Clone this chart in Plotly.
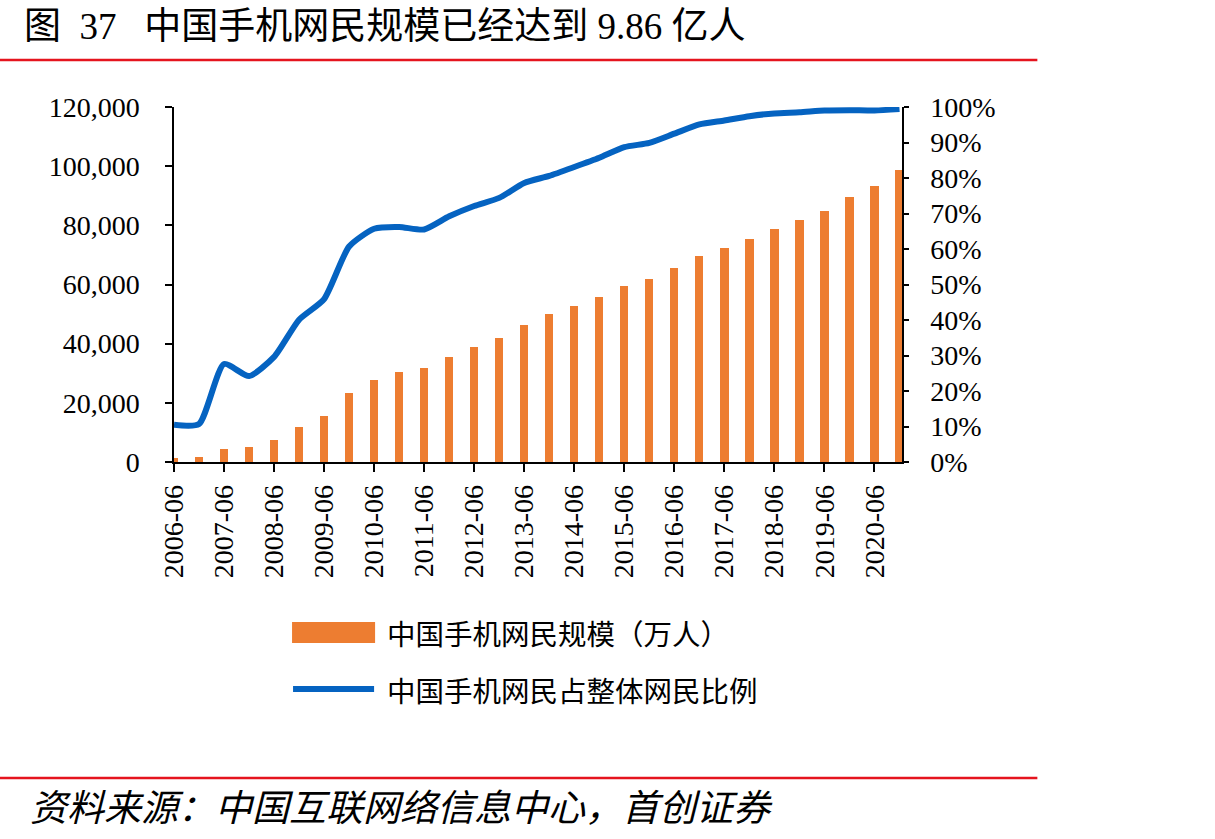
import plotly.graph_objects as go

# ---------------- data ----------------
periods = ["2006-06", "2006-12", "2007-06", "2007-12", "2008-06", "2008-12",
           "2009-06", "2009-12", "2010-06", "2010-12", "2011-06", "2011-12",
           "2012-06", "2012-12", "2013-06", "2013-12", "2014-06", "2014-12",
           "2015-06", "2015-12", "2016-06", "2016-12", "2017-06", "2017-12",
           "2018-06", "2018-12", "2019-06", "2020-03", "2020-06", "2020-12"]
mobile_users = [1300, 1700, 4430, 5040, 7305, 11760, 15530, 23344, 27678, 30274,
                31768, 35558, 38825, 41997, 46373, 50006, 52705, 55678, 59357, 61981,
                65637, 69531, 72361, 75265, 78774, 81698, 84681, 89690, 93238, 98576]
mobile_share = [0.105, 0.107, 0.276, 0.242, 0.296, 0.401, 0.459, 0.607, 0.657, 0.662,
                0.655, 0.692, 0.721, 0.744, 0.786, 0.806, 0.831, 0.857, 0.887, 0.899,
                0.925, 0.951, 0.962, 0.974, 0.982, 0.985, 0.990, 0.991, 0.990, 0.994]
tick_labels = [p for p in periods if p.endswith("-06")]

bar_name = "中国手机网民规模（万人）"
line_name = "中国手机网民占整体网民比例"
title_text = "图  37   中国手机网民规模已经达到 9.86 亿人"
source_text = "资料来源：中国互联网络信息中心，首创证券"

ORANGE = "#ED7D31"
BLUE = "#0563C1"
RED = "#E5141E"
SERIF = "Liberation Serif, Times New Roman, Noto Sans CJK SC"
CJK = "Noto Sans CJK SC"

# plot-area geometry in pixels
W, H = 1215, 839
L, R, T, B = 174, 901.7, 107, 462


def px(x):
    return (x - L) / (R - L)


def py(y):
    return (B - y) / (B - T)


fig = go.Figure()
fig.add_trace(go.Bar(x=periods, y=mobile_users, name=bar_name,
                     marker=dict(color=ORANGE, line=dict(width=0)),
                     width=0.33, yaxis="y", showlegend=False))
fig.add_trace(go.Scatter(x=periods, y=mobile_share, name=line_name, mode="lines",
                         line=dict(color=BLUE, width=6, shape="spline", smoothing=0.6),
                         yaxis="y2", showlegend=False, cliponaxis=False))

fig.update_layout(
    width=W, height=H, autosize=False,
    margin=dict(l=L, r=W - R, t=T, b=H - B, pad=0),
    paper_bgcolor="white", plot_bgcolor="white",
    font=dict(family=SERIF, color="black", size=28),
    showlegend=False,
    bargap=0,
    xaxis=dict(type="category", range=[0, 29.1], tickmode="array",
               tickvals=tick_labels, ticktext=tick_labels, tickangle=-90,
               ticks="outside", ticklen=8, tickwidth=1.5, tickcolor="black",
               showline=True, linecolor="black", linewidth=1.5,
               showgrid=False, zeroline=False, ticklabelstandoff=2,
               tickfont=dict(family=SERIF, size=28)),
    yaxis=dict(range=[0, 120000], dtick=20000, tickformat=",",
               ticks="outside", ticklen=7, tickwidth=1.5, tickcolor="black",
               showline=True, linecolor="black", linewidth=1.5,
               showgrid=False, zeroline=False, ticklabelstandoff=20,
               tickfont=dict(family=SERIF, size=28)),
    yaxis2=dict(range=[0, 1], dtick=0.1, tickformat=".0%", overlaying="y", side="right",
                ticks="outside", ticklen=5, tickwidth=1.5, tickcolor="black",
                showline=True, linecolor="black", linewidth=1.5,
                showgrid=False, zeroline=False, ticklabelstandoff=16,
                tickfont=dict(family=SERIF, size=28)),
)

shapes = [
    dict(type="line", xref="paper", yref="paper", x0=px(0), x1=px(1037), y0=py(60), y1=py(60),
         line=dict(color=RED, width=2.5)),
    dict(type="line", xref="paper", yref="paper", x0=px(0), x1=px(1037), y0=py(778), y1=py(778),
         line=dict(color=RED, width=2.5)),
    dict(type="rect", xref="paper", yref="paper", x0=px(292), x1=px(375), y0=py(643), y1=py(622),
         fillcolor=ORANGE, line=dict(width=0)),
    dict(type="line", xref="paper", yref="paper", x0=px(293), x1=px(374), y0=py(689), y1=py(689),
         line=dict(color=BLUE, width=6)),
]
fig.update_layout(shapes=shapes)

annotations = [
    dict(text=title_text, xref="paper", yref="paper", x=px(22), y=py(26),
         xanchor="left", yanchor="middle", showarrow=False,
         font=dict(family=SERIF, size=37, color="black")),
    dict(text=bar_name, xref="paper", yref="paper", x=px(385), y=py(632),
         xanchor="left", yanchor="middle", showarrow=False,
         font=dict(family=CJK, size=28.5, color="black")),
    dict(text=line_name, xref="paper", yref="paper", x=px(385), y=py(689),
         xanchor="left", yanchor="middle", showarrow=False,
         font=dict(family=CJK, size=28.5, color="black")),
    dict(text="<i>" + source_text + "</i>", xref="paper", yref="paper", x=px(28), y=py(805),
         xanchor="left", yanchor="middle", showarrow=False,
         font=dict(family=CJK, size=37, color="black")),
]
fig.update_layout(annotations=annotations)

fig.write_html("out.html")
